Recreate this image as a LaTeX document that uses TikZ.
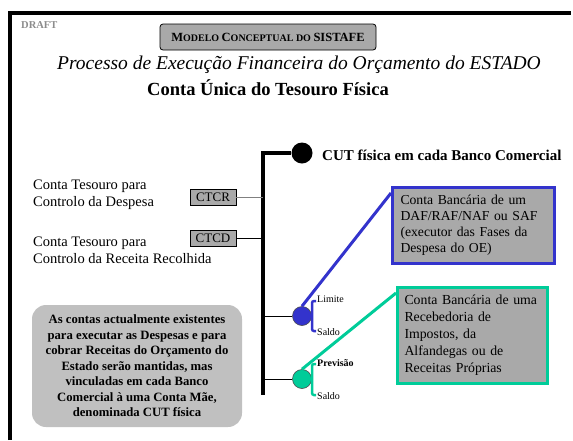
\documentclass[tikz,border=0pt]{standalone}
\usepackage{fontspec}
\setmainfont{Liberation Serif}
\definecolor{boxgray}{HTML}{A9A9A9}
\definecolor{lightgray2}{HTML}{C0C0C0}
\definecolor{myblue}{HTML}{3333CC}
\definecolor{mygreen}{HTML}{00CC99}
\definecolor{draftgray}{HTML}{8C8C8C}
\begin{document}
\begin{tikzpicture}[x=1pt,y=-1pt,
  ctbox/.style={draw=black,fill=boxgray,line width=0.8pt,inner sep=0pt,minimum width=46pt,minimum height=16pt,font=\fontsize{13}{13}\selectfont},
  lbl/.style={anchor=north west,align=left,inner sep=0pt,font=\fontsize{14.5}{17}\selectfont},
  small/.style={anchor=west,inner sep=0pt,font=\fontsize{10}{10}\selectfont},
  infobox/.style={fill=boxgray,line width=3pt,anchor=north west,inner sep=0pt,text width=#1,align=left},
  mainline/.style={line width=4pt},
  thinline/.style={line width=1pt}]
\useasboundingbox (0,0) rectangle (573,440);
% frame
\draw[line width=4pt] (10,440) -- (10,13) -- (571,13);
% draft
\node[anchor=north west,inner sep=0pt,text=draftgray,font=\bfseries\fontsize{10.5}{10.5}\selectfont] (draft) at (21,21) {DRAFT};
% title box
\node[draw=black,fill=boxgray,rounded corners=3pt,line width=0.8pt,minimum width=216pt,minimum height=26pt,inner sep=0pt] (title) at (268,37)
 {\bfseries{\fontsize{12.5}{12.5}\selectfont M}{\fontsize{10}{10}\selectfont ODELO }{\fontsize{12.5}{12.5}\selectfont C}{\fontsize{10}{10}\selectfont ONCEPTUAL DO }{\fontsize{12.5}{12.5}\selectfont SISTAFE}};
\node[inner sep=0pt,font=\itshape\fontsize{19.5}{19.5}\selectfont] (proc) at (299,65) {Processo de Execução Financeira do Orçamento do ESTADO};
\node[inner sep=0pt,font=\bfseries\fontsize{18.5}{18.5}\selectfont] (cut) at (268,88) {Conta Única do Tesouro Física};
% main vertical
\coordinate (vtop) at (263,153);
\coordinate (vbot) at (263,395);
\draw[mainline] (vtop) -- (vbot);
\node[circle,fill=black,minimum size=21pt,inner sep=0pt] (bc) at (302,153) {};
\draw[mainline] ([yshift=-2pt]vtop) -- (vtop) -- (bc);
\node[anchor=west,inner sep=0pt,font=\bfseries\fontsize{15}{15}\selectfont] (cutl) at (322,155) {CUT física em cada Banco Comercial};
% left labels
\node[lbl] (l1) at (33,180) {Conta Tesouro para\\Controlo da Despesa};
\node[lbl] (l2) at (33,237) {Conta Tesouro para\\Controlo da Receita Recolhida};
\node[ctbox] (ctcr) at (213,197) {CTCR};
\node[ctbox] (ctcd) at (213,238) {CTCD};
\coordinate (j1) at (263,197);
\coordinate (j2) at (263,238);
\draw[thinline,draw=gray] (ctcr) -- (j1);
\draw[thinline] (ctcd) -- (j2);
% circles
\node[circle,draw=black!70,line width=0.6pt,fill=myblue,minimum size=19pt,inner sep=0pt] (blue) at (302,316) {};
\node[circle,draw=black!70,line width=0.6pt,fill=mygreen,minimum size=19pt,inner sep=0pt] (green) at (302,379) {};
\coordinate (j3) at (263,316);
\coordinate (j4) at (263,379);
\draw[thinline] (j3) -- (blue);
\draw[thinline] (j4) -- (green);
% brackets
\draw[myblue,line width=2.5pt,rounded corners=2pt] (316,301) -- (312,301) -- (312,331) -- (316,331);
\draw[mygreen,line width=2.5pt,rounded corners=2pt] (316,364) -- (312,364) -- (312,395) -- (316,395);
\node[small] (lim) at (317,299) {Limite};
\node[small] (sal1) at (317,332) {Saldo};
\node[small,font=\bfseries\fontsize{10}{10}\selectfont] (prev) at (317,363) {Previsão};
\node[small] (sal2) at (317,396) {Saldo};
% info boxes
\node[infobox=146pt,draw=myblue,minimum height=76pt,font=\fontsize{13.7}{16}\selectfont,inner xsep=8pt,inner ysep=6pt] (bbox) at (391,186)
 {Conta Bancária de um\\DAF/RAF/NAF ou SAF\\(executor das Fases da\\Despesa do OE)};
\node[infobox=136pt,draw=mygreen,minimum height=96pt,font=\fontsize{13.8}{17}\selectfont,inner xsep=7pt,inner ysep=5pt] (gbox) at (396,286)
 {Conta Bancária de uma\\Recebedoria de\\Impostos, da\\Alfandegas ou de\\Receitas Próprias};
\draw[myblue,line width=3pt] (blue.north) -- (bbox.west |- 0,193);
\draw[mygreen,line width=3pt] (green.north) -- (gbox.west |- 0,293);
% note
\node[fill=lightgray2,rounded corners=14pt,minimum width=210pt,minimum height=122pt,inner sep=0pt,align=center,font=\bfseries\fontsize{12.7}{15.5}\selectfont] (note) at (137,366)
 {As contas actualmente existentes\\para executar as Despesas e para\\cobrar Receitas do Orçamento do\\Estado serão mantidas, mas\\vinculadas em cada Banco\\Comercial à uma Conta Mãe,\\denominada CUT física};
\end{tikzpicture}
\end{document}
